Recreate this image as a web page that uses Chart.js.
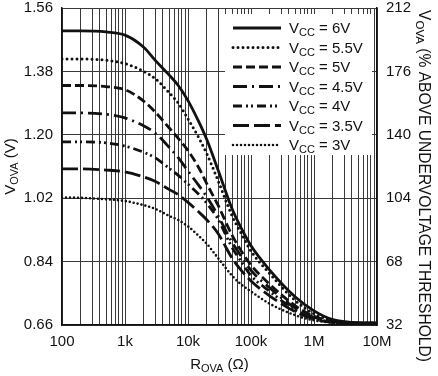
<!DOCTYPE html>
<html>
<head>
<meta charset="utf-8">
<script src="https://cdn.jsdelivr.net/npm/chart.js@4/dist/chart.umd.min.js"></script>
<style>
  html, body { margin: 0; padding: 0; background: #fff; }
  #wrap { width: 438px; height: 376px; }
</style>
</head>
<body>
<div id="wrap"><canvas id="grafica" width="438" height="376"></canvas></div>
<script>
// R_OVA values (ohms) where the curves were read
const resistencia = [100, 200, 500, 1e3, 2e3, 3e3, 5e3, 7e3, 1e4, 1.5e4, 2e4, 3e4, 5e4, 7e4, 1e5, 2e5, 5e5, 1e6, 2e6, 5e6, 1e7];

// V_OVA (V) for each supply voltage
const vcc6  = [1.495, 1.495, 1.492, 1.483, 1.448, 1.412, 1.37, 1.34, 1.297, 1.235, 1.185, 1.10, 0.99, 0.935, 0.885, 0.815, 0.74, 0.70, 0.675, 0.666, 0.665];
const vcc55 = [1.415, 1.415, 1.412, 1.402, 1.38, 1.36, 1.32, 1.29, 1.245, 1.19, 1.145, 1.07, 0.97, 0.92, 0.87, 0.805, 0.73, 0.692, 0.673, 0.666, 0.665];
const vcc5  = [1.34, 1.34, 1.337, 1.328, 1.295, 1.265, 1.22, 1.19, 1.155, 1.105, 1.06, 1.00, 0.915, 0.87, 0.83, 0.775, 0.715, 0.685, 0.67, 0.666, 0.665];
const vcc45 = [1.262, 1.262, 1.258, 1.248, 1.225, 1.205, 1.165, 1.135, 1.097, 1.055, 1.023, 0.97, 0.895, 0.855, 0.815, 0.765, 0.708, 0.682, 0.669, 0.665, 0.665];
const vcc4  = [1.18, 1.18, 1.177, 1.168, 1.15, 1.135, 1.105, 1.085, 1.06, 1.03, 1.005, 0.96, 0.88, 0.84, 0.80, 0.755, 0.703, 0.68, 0.668, 0.665, 0.665];
const vcc35 = [1.103, 1.103, 1.10, 1.095, 1.08, 1.068, 1.045, 1.03, 1.008, 0.98, 0.958, 0.92, 0.85, 0.815, 0.785, 0.742, 0.698, 0.677, 0.667, 0.665, 0.665];
const vcc3  = [1.022, 1.021, 1.017, 1.012, 1.0, 0.99, 0.97, 0.958, 0.94, 0.912, 0.89, 0.85, 0.80, 0.775, 0.755, 0.72, 0.688, 0.673, 0.667, 0.665, 0.665];

const etiquetasVcc = ["6V", "5.5V", "5V", "4.5V", "4V", "3.5V", "3V"];

// ticks
const xTicksMayores = [100, 1e3, 1e4, 1e5, 1e6, 1e7];
const xEtiquetas = ["100", "1k", "10k", "100k", "1M", "10M"];
const yTicks = [0.66, 0.84, 1.02, 1.20, 1.38, 1.56];
const y2Ticks = [32, 68, 104, 140, 176, 212];

const FUENTE = "'Liberation Sans', Arial, sans-serif";
const NEGRO = "#111";

// minor grid: 1..9 per decade
const xGrid = [];
xTicksMayores.slice(0, -1).forEach((d) => {
  for (let k = 1; k <= 9; k++) xGrid.push(d * k);
});
xGrid.push(1e7);

const estilos = [
  { dash: [], width: 2.8, cap: "butt" },
  { dash: [0, 5], width: 3, cap: "round" },
  { dash: [9, 4], width: 2.8, cap: "butt" },
  { dash: [14, 5, 2, 5], width: 2.8, cap: "butt" },
  { dash: [9, 4, 2, 3, 2, 4], width: 2.8, cap: "butt" },
  { dash: [16, 5], width: 2.8, cap: "butt" },
  { dash: [0, 4], width: 2.6, cap: "round" },
];

const series = [vcc6, vcc55, vcc5, vcc45, vcc4, vcc35, vcc3];

const datos = {
  datasets: series.map((s, i) => ({
    label: "VCC = " + etiquetasVcc[i],
    data: resistencia.map((r, j) => ({ x: r, y: s[j] })),
    borderColor: NEGRO,
    borderWidth: estilos[i].width,
    borderDash: estilos[i].dash,
    borderCapStyle: estilos[i].cap,
    pointRadius: 0,
    fill: false,
    cubicInterpolationMode: "monotone",
  })),
};

// draws text with subscript pieces, centred on x
function textoRico(ctx, partes, x, y) {
  let ancho = 0;
  partes.forEach((p) => {
    ctx.font = p.size + "px " + FUENTE;
    p.w = ctx.measureText(p.t).width;
    ancho += p.w;
  });
  let cx = x - ancho / 2;
  ctx.textAlign = "left";
  ctx.textBaseline = "alphabetic";
  partes.forEach((p) => {
    ctx.font = p.size + "px " + FUENTE;
    ctx.fillText(p.t, cx, y + (p.dy || 0));
    cx += p.w;
  });
  return ancho;
}

const leyendaYTitulos = {
  id: "leyendaYTitulos",
  beforeDatasetsDraw(chart) {
    const ctx = chart.ctx;
    ctx.save();
    ctx.fillStyle = "#fff";
    ctx.fillRect(225, 14, 147, 141);
    etiquetasVcc.forEach((et, i) => {
      const y = 28 + i * 19.5;
      ctx.beginPath();
      ctx.strokeStyle = NEGRO;
      ctx.lineWidth = estilos[i].width;
      ctx.setLineDash(estilos[i].dash);
      ctx.lineCap = estilos[i].cap;
      ctx.moveTo(233, y);
      ctx.lineTo(281, y);
      ctx.stroke();
      ctx.setLineDash([]);
      ctx.fillStyle = NEGRO;
      const partes = [
        { t: "V", size: 15 },
        { t: "CC", size: 11, dy: 3 },
        { t: " = " + et, size: 15 },
      ];
      let ancho = 0;
      partes.forEach((p) => {
        ctx.font = p.size + "px " + FUENTE;
        ancho += ctx.measureText(p.t).width;
      });
      textoRico(ctx, partes, 289 + ancho / 2, y + 5);
    });
    ctx.restore();
  },
  afterDraw(chart) {
    const ctx = chart.ctx;
    const area = chart.chartArea;
    ctx.save();
    ctx.fillStyle = NEGRO;
    // x title
    textoRico(ctx, [
      { t: "R", size: 15 },
      { t: "OVA", size: 11, dy: 3 },
      { t: " (\u03A9)", size: 15 },
    ], (area.left + area.right) / 2, 369);
    // left title
    ctx.save();
    ctx.translate(15, (area.top + area.bottom) / 2);
    ctx.rotate(-Math.PI / 2);
    textoRico(ctx, [
      { t: "V", size: 15 },
      { t: "OVA", size: 11, dy: 3 },
      { t: " (V)", size: 15 },
    ], 0, 0);
    ctx.restore();
    // right title
    ctx.save();
    ctx.translate(419, 186);
    ctx.rotate(Math.PI / 2);
    textoRico(ctx, [
      { t: "V", size: 15.6 },
      { t: "OVA", size: 11.5, dy: 3 },
      { t: " (% ABOVE UNDERVOLTAGE THRESHOLD)", size: 15.6 },
    ], 0, 0);
    ctx.restore();
    ctx.restore();
  },
};

const config = {
  type: "line",
  data: datos,
  options: {
    responsive: false,
    animation: false,
    layout: { padding: { top: 8, left: 0, right: 0, bottom: 0 } },
    plugins: {
      legend: { display: false },
      tooltip: { enabled: false },
    },
    scales: {
      x: {
        type: "logarithmic",
        min: 100,
        max: 1e7,
        afterBuildTicks: (s) => {
          s.ticks = xGrid.map((v) => ({ value: v }));
        },
        afterFit: (s) => {
          s.height = 51;
          s.paddingLeft = 0;
          s.paddingRight = 0;
        },
        ticks: {
          autoSkip: false,
          maxRotation: 0,
          padding: 8,
          color: NEGRO,
          font: { family: FUENTE, size: 15 },
          callback: (v) => {
            const i = xTicksMayores.indexOf(v);
            return i >= 0 ? xEtiquetas[i] : "";
          },
        },
        grid: { color: "#3a3a3a", lineWidth: 1, drawTicks: false },
        border: { color: NEGRO, width: 1.5 },
      },
      y: {
        min: 0.66,
        max: 1.56,
        afterBuildTicks: (s) => {
          s.ticks = yTicks.map((v) => ({ value: v }));
        },
        afterFit: (s) => {
          s.width = 62;
          s.paddingTop = 0;
          s.paddingBottom = 0;
        },
        ticks: {
          padding: 9,
          color: NEGRO,
          font: { family: FUENTE, size: 15 },
          callback: (v) => v.toFixed(2),
        },
        grid: { color: "#3a3a3a", lineWidth: 1, drawTicks: false },
        border: { color: NEGRO, width: 1.5 },
      },
      y2: {
        position: "right",
        min: 32,
        max: 212,
        afterBuildTicks: (s) => {
          s.ticks = y2Ticks.map((v) => ({ value: v }));
        },
        afterFit: (s) => {
          s.width = 61;
          s.paddingTop = 0;
          s.paddingBottom = 0;
        },
        ticks: {
          padding: 9,
          color: NEGRO,
          font: { family: FUENTE, size: 15 },
        },
        grid: { display: false, drawTicks: false },
        border: { color: NEGRO, width: 1.5 },
      },
    },
  },
  plugins: [leyendaYTitulos],
};

const grafica = new Chart(document.getElementById("grafica").getContext("2d"), config);
</script>
</body>
</html>
